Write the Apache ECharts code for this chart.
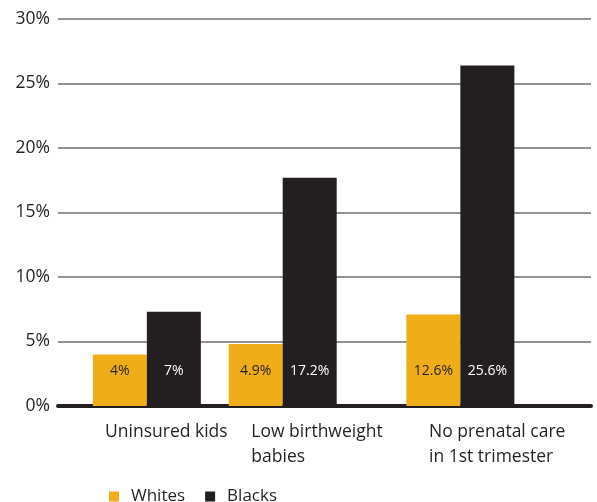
<!DOCTYPE html>
<html>
<head>
<meta charset="utf-8">
<script src="https://cdn.jsdelivr.net/npm/echarts@6/dist/echarts.min.js"></script>
<style>
  html, body { margin: 0; padding: 0; background: #fff; }
  #chart { width: 597px; height: 502px; }
</style>
</head>
<body>
<div id="chart"></div>
<script>
// chart data
const categories = ['Uninsured kids', 'Low birthweight\nbabies', 'No prenatal care\nin 1st trimester'];
const seriesNames = ['Whites', 'Blacks'];
const whites = [4.0, 4.8, 7.1];
const blacks = [7.3, 17.7, 26.4];
const whiteLabels = ['4%', '4.9%', '12.6%'];
const blackLabels = ['7%', '17.2%', '25.6%'];
const yMin = 0;
const yMax = 30;
const yStep = 5;

// layout: the groups are unevenly spaced, so the axis is cut into fine slots
const SLOTS = 51;
const barSlots = [8, 21, 38];
const labelSlots = [4, 18, 35];

const axisData = new Array(SLOTS).fill('');
labelSlots.forEach((s, i) => { axisData[s] = categories[i]; });

function slotData(values) {
  const arr = new Array(SLOTS).fill('-');
  barSlots.forEach((s, i) => { arr[s] = values[i]; });
  return arr;
}

const chart = echarts.init(document.getElementById('chart'));
const font = '"Open Sans", "Noto Sans", sans-serif';

chart.setOption({
  animation: false,
  textStyle: { fontFamily: font },
  color: ['#EFAE17', '#231F20'],
  grid: { left: 58, right: 6, top: 19, bottom: 96 },
  legend: {
    data: seriesNames,
    left: 104,
    top: 483,
    icon: 'rect',
    itemWidth: 10,
    itemHeight: 10,
    itemGap: 20,
    textStyle: { fontSize: 17, color: '#231F20', padding: [0, 0, 0, 7] }
  },
  xAxis: {
    type: 'category',
    data: axisData,
    axisLine: { lineStyle: { color: '#231F20', width: 4 } },
    axisTick: { show: false },
    axisLabel: {
      interval: 0,
      align: 'left',
      fontSize: 17.5,
      lineHeight: 25,
      margin: 14,
      color: '#231F20'
    }
  },
  yAxis: {
    type: 'value',
    min: yMin,
    max: yMax,
    interval: yStep,
    axisLine: { show: false },
    axisTick: { show: false },
    axisLabel: { formatter: '{value}%', fontSize: 17.5, margin: 8, color: '#231F20' },
    splitLine: { lineStyle: { color: '#6d6e71', width: 1.5 } }
  },
  series: [
    {
      name: seriesNames[0],
      type: 'bar',
      barWidth: 54,
      barGap: '0%',
      data: slotData(whites),
      label: {
        show: true,
        position: 'insideBottom',
        distance: 28,
        fontSize: 14,
        color: '#231F20',
        formatter: p => whiteLabels[barSlots.indexOf(p.dataIndex)]
      }
    },
    {
      name: seriesNames[1],
      type: 'bar',
      barWidth: 54,
      barGap: '0%',
      data: slotData(blacks),
      label: {
        show: true,
        position: 'insideBottom',
        distance: 28,
        fontSize: 14,
        color: '#ffffff',
        formatter: p => blackLabels[barSlots.indexOf(p.dataIndex)]
      }
    }
  ]
});
</script>
</body>
</html>
